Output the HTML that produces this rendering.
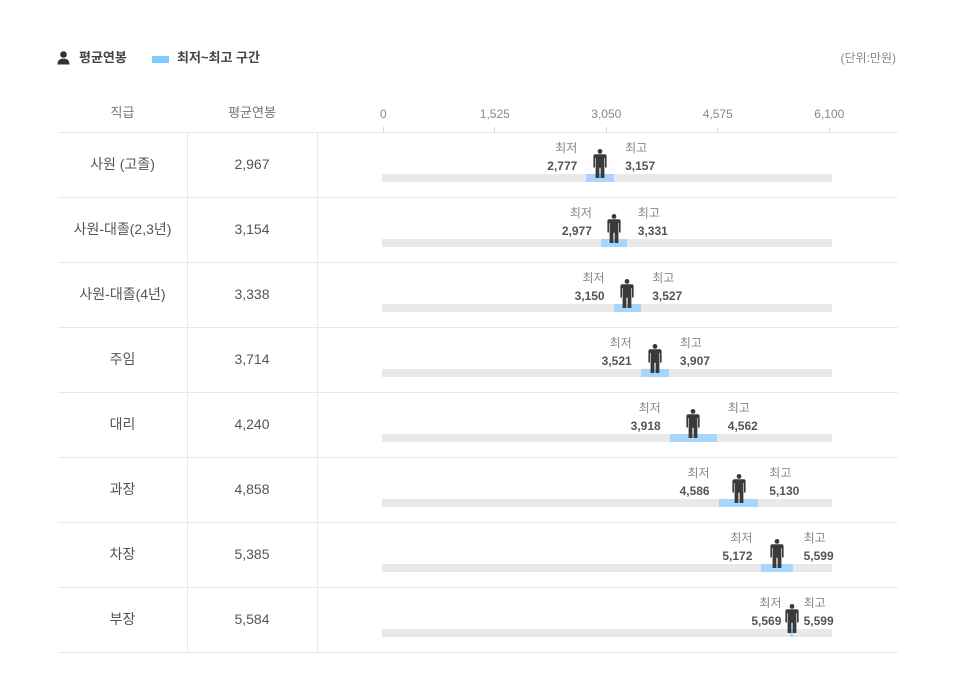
<!DOCTYPE html>
<html><head><meta charset="utf-8">
<style>
html,body{margin:0;padding:0;background:#fff;}
body{width:955px;height:700px;position:relative;overflow:hidden;font-family:"Liberation Sans","Noto Sans CJK KR",sans-serif;}
.a{position:absolute;}
.hl{position:absolute;left:58px;width:840px;height:1px;background:#e8e8e8;}
.vl{position:absolute;top:132px;width:1px;height:520px;background:#e8e8e8;}
.name{position:absolute;left:58px;width:129px;height:65px;line-height:65px;text-align:center;font-size:14px;color:#555;}
.avg{position:absolute;left:187px;width:130px;height:65px;line-height:65px;text-align:center;font-size:14px;color:#555;}
.trk{position:absolute;left:382px;width:450px;height:8px;background:#e9e9e9;}
.rng{position:absolute;height:8px;background:#a6d6fd;}
.lt{position:absolute;height:16px;line-height:16px;font-size:12px;color:#888;white-space:nowrap;}
.ln{position:absolute;height:16px;line-height:16px;font-size:12px;font-weight:bold;color:#555;white-space:nowrap;}
.ic{position:absolute;width:14px;height:30px;}
.tk{position:absolute;top:106px;width:60px;margin-left:-30px;text-align:center;font-size:12px;color:#888;line-height:16px;}
.tm{position:absolute;top:127px;width:1px;height:5px;background:#d5d5d5;}
.hd{position:absolute;top:105px;height:16px;line-height:16px;text-align:center;font-size:13px;color:#777;}
</style></head>
<body>
<svg class="a" style="left:57px;top:51px" width="13" height="14" viewBox="0 0 13 14"><circle cx="6.5" cy="3.5" r="3.3" fill="#333"/><path d="M0.5,13.5 C0.5,9 3,7.6 6.5,7.6 C10,7.6 12.5,9 12.5,13.5 Z" fill="#333"/></svg>
<div class="a" style="left:79px;top:49px;font-size:13px;font-weight:bold;color:#444;line-height:18px;">평균연봉</div>
<div class="a" style="left:152px;top:56px;width:17px;height:7px;background:#7fcbff;"></div>
<div class="a" style="left:177px;top:49px;font-size:13px;font-weight:bold;color:#444;line-height:18px;">최저~최고 구간</div>
<div class="a" style="right:59px;top:49px;font-size:12px;color:#888;line-height:18px;">(단위:만원)</div>

<div class="hd" style="left:58px;width:129px;">직급</div>
<div class="hd" style="left:187px;width:130px;">평균연봉</div>

<div class="tk" style="left:383.3px">0</div>
<div class="tk" style="left:494.8px">1,525</div>
<div class="tk" style="left:606.3px">3,050</div>
<div class="tk" style="left:717.8px">4,575</div>
<div class="tk" style="left:829.3px">6,100</div>
<div class="tm" style="left:383px"></div>
<div class="tm" style="left:494px"></div>
<div class="tm" style="left:606px"></div>
<div class="tm" style="left:717px"></div>
<div class="tm" style="left:829px"></div>

<div class="hl" style="top:132px"></div>
<div class="hl" style="top:197px"></div>
<div class="hl" style="top:262px"></div>
<div class="hl" style="top:327px"></div>
<div class="hl" style="top:392px"></div>
<div class="hl" style="top:457px"></div>
<div class="hl" style="top:522px"></div>
<div class="hl" style="top:587px"></div>
<div class="hl" style="top:652px"></div>
<div class="vl" style="left:187px"></div>
<div class="vl" style="left:317px"></div>

<svg width="0" height="0" style="position:absolute"><defs><g id="p"><circle cx="7" cy="2.4" r="2.4" fill="#3a3a3a"/><path d="M2.3,5.3 H11.7 Q13.6,5.3 13.6,7.3 V18.5 H12 V9 H11.4 V29 H7.6 V18.8 H6.4 V29 H2.6 V9 H2 V18.5 H0.4 V7.3 Q0.4,5.3 2.3,5.3 Z" fill="#3a3a3a"/></g></defs></svg>

<!-- Row 0 -->
<div class="name" style="top:132px">사원 (고졸)</div>
<div class="avg" style="top:132px">2,967</div>
<div class="trk" style="top:174px"></div>
<div class="rng" style="top:174px;left:586.3px;width:27.8px"></div>
<svg class="ic" style="left:593.2px;top:149px" viewBox="0 0 14 30"><use href="#p"/></svg>
<div class="lt" style="top:140px;right:377.7px">최저</div>
<div class="ln" style="top:157.5px;right:377.7px">2,777</div>
<div class="lt" style="top:140px;left:625.1px">최고</div>
<div class="ln" style="top:157.5px;left:625.1px">3,157</div>

<!-- Row 1 -->
<div class="name" style="top:197px">사원-대졸(2,3년)</div>
<div class="avg" style="top:197px">3,154</div>
<div class="trk" style="top:239px"></div>
<div class="rng" style="top:239px;left:600.9px;width:25.9px"></div>
<svg class="ic" style="left:606.9px;top:214px" viewBox="0 0 14 30"><use href="#p"/></svg>
<div class="lt" style="top:205px;right:363.1px">최저</div>
<div class="ln" style="top:222.5px;right:363.1px">2,977</div>
<div class="lt" style="top:205px;left:637.8px">최고</div>
<div class="ln" style="top:222.5px;left:637.8px">3,331</div>

<!-- Row 2 -->
<div class="name" style="top:262px">사원-대졸(4년)</div>
<div class="avg" style="top:262px">3,338</div>
<div class="trk" style="top:304px"></div>
<div class="rng" style="top:304px;left:613.6px;width:27.6px"></div>
<svg class="ic" style="left:620.3px;top:279px" viewBox="0 0 14 30"><use href="#p"/></svg>
<div class="lt" style="top:270px;right:350.4px">최저</div>
<div class="ln" style="top:287.5px;right:350.4px">3,150</div>
<div class="lt" style="top:270px;left:652.2px">최고</div>
<div class="ln" style="top:287.5px;left:652.2px">3,527</div>

<!-- Row 3 -->
<div class="name" style="top:327px">주임</div>
<div class="avg" style="top:327px">3,714</div>
<div class="trk" style="top:369px"></div>
<div class="rng" style="top:369px;left:640.7px;width:28.2px"></div>
<svg class="ic" style="left:647.8px;top:344px" viewBox="0 0 14 30"><use href="#p"/></svg>
<div class="lt" style="top:335px;right:323.3px">최저</div>
<div class="ln" style="top:352.5px;right:323.3px">3,521</div>
<div class="lt" style="top:335px;left:679.9px">최고</div>
<div class="ln" style="top:352.5px;left:679.9px">3,907</div>

<!-- Row 4 -->
<div class="name" style="top:392px">대리</div>
<div class="avg" style="top:392px">4,240</div>
<div class="trk" style="top:434px"></div>
<div class="rng" style="top:434px;left:669.7px;width:47.1px"></div>
<svg class="ic" style="left:686.3px;top:409px" viewBox="0 0 14 30"><use href="#p"/></svg>
<div class="lt" style="top:400px;right:294.3px">최저</div>
<div class="ln" style="top:417.5px;right:294.3px">3,918</div>
<div class="lt" style="top:400px;left:727.8px">최고</div>
<div class="ln" style="top:417.5px;left:727.8px">4,562</div>

<!-- Row 5 -->
<div class="name" style="top:457px">과장</div>
<div class="avg" style="top:457px">4,858</div>
<div class="trk" style="top:499px"></div>
<div class="rng" style="top:499px;left:718.6px;width:39.7px"></div>
<svg class="ic" style="left:731.5px;top:474px" viewBox="0 0 14 30"><use href="#p"/></svg>
<div class="lt" style="top:465px;right:245.4px">최저</div>
<div class="ln" style="top:482.5px;right:245.4px">4,586</div>
<div class="lt" style="top:465px;left:769.3px">최고</div>
<div class="ln" style="top:482.5px;left:769.3px">5,130</div>

<!-- Row 6 -->
<div class="name" style="top:522px">차장</div>
<div class="avg" style="top:522px">5,385</div>
<div class="trk" style="top:564px"></div>
<div class="rng" style="top:564px;left:761.4px;width:31.2px"></div>
<svg class="ic" style="left:770px;top:539px" viewBox="0 0 14 30"><use href="#p"/></svg>
<div class="lt" style="top:530px;right:202.6px">최저</div>
<div class="ln" style="top:547.5px;right:202.6px">5,172</div>
<div class="lt" style="top:530px;left:803.6px">최고</div>
<div class="ln" style="top:547.5px;left:803.6px">5,599</div>

<!-- Row 7 -->
<div class="name" style="top:587px">부장</div>
<div class="avg" style="top:587px">5,584</div>
<div class="trk" style="top:629px"></div>
<div class="rng" style="top:629px;left:790.4px;width:2.2px"></div>
<svg class="ic" style="left:784.5px;top:604px" viewBox="0 0 14 30"><use href="#p"/></svg>
<div class="lt" style="top:595px;right:173.6px">최저</div>
<div class="ln" style="top:612.5px;right:173.6px">5,569</div>
<div class="lt" style="top:595px;left:803.6px">최고</div>
<div class="ln" style="top:612.5px;left:803.6px">5,599</div>
</body></html>
